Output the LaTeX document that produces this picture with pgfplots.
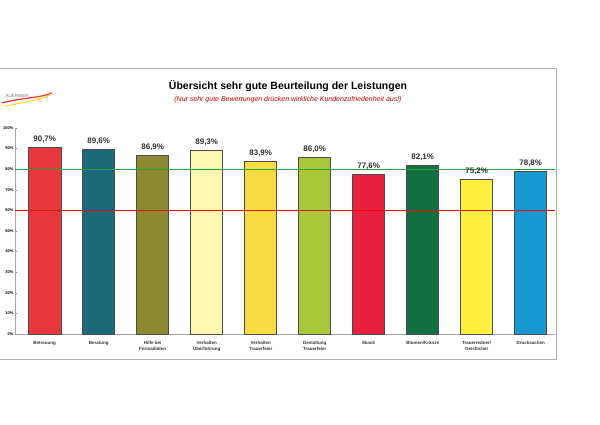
\documentclass[border=0pt]{standalone}
\usepackage{pgfplots}
\pgfplotsset{compat=1.18}
\usepackage{fontspec}
\setmainfont{Liberation Sans}
\definecolor{c1}{HTML}{E8383D}\definecolor{c2}{HTML}{1A6A7A}\definecolor{c3}{HTML}{8C8A30}
\definecolor{c4}{HTML}{FFF8B0}\definecolor{c5}{HTML}{F8DC40}\definecolor{c6}{HTML}{A8C83A}
\definecolor{c7}{HTML}{E82040}\definecolor{c8}{HTML}{107040}\definecolor{c9}{HTML}{FFF040}
\definecolor{c10}{HTML}{1898D0}\definecolor{refgreen}{RGB}{40,160,60}
\begin{document}
\begin{tikzpicture}[x=1pt,y=1pt]
\useasboundingbox (0,0) rectangle (600,425);
\clip (0,0) rectangle (600,425);
\fill[white] (0,0) rectangle (600,425);
\draw[gray!60] (0,357) -- (556,357) -- (556,66) -- (0,66);
\node[font=\bfseries\fontsize{10.5}{12}\selectfont] at (288,339) {Übersicht sehr gute Beurteilung der Leistungen};
\node[font=\itshape\fontsize{7}{8}\selectfont, text=red!80!black] at (288,325) {(Nur sehr gute Bewertungen drücken wirkliche Kundenzufriedenheit aus!)};
\node[font=\fontsize{4.5}{5}\selectfont, text=gray, anchor=west] at (2,329) {AUERBIER};
\draw[red!80, line width=1.2pt] (2,322) .. controls (20,327) and (40,327) .. (52,332);
\draw[yellow!80!orange, line width=1pt] (6,319) .. controls (25,323) and (40,325) .. (50,330);
\begin{axis}[at={(15pt,91pt)}, anchor=south west, scale only axis, width=540pt, height=206pt,
 ymin=0, ymax=100, xmin=-0.55, xmax=9.45, axis x line*=bottom, axis y line*=left,
 /pgf/number format/assume math mode=true,
 ytick={0,10,...,100}, yticklabels={0\%,10\%,20\%,30\%,40\%,50\%,60\%,70\%,80\%,90\%,100\%},
 yticklabel style={font=\fontsize{4}{5}\selectfont\bfseries, xshift=2pt}, tick style={gray}, axis line style={gray!70},
 major tick length=2pt, xtick={0,...,9},
 xticklabels={Betreuung,Beratung,Hilfe bei\\Formalitäten,Verhalten\\Überführung,Verhalten\\Trauerfeier,Gestaltung\\Trauerfeier,Musik,Blumen/Kränze,Trauerredner/\\Geistlicher,Drucksachen},
 xticklabel style={font=\fontsize{4.5}{5.5}\selectfont\bfseries, align=center, anchor=north, yshift=-2pt, text=black!80},
 x tick style={draw=none},
 ybar, bar width=32pt, bar shift=0pt,
 nodes near coords={\pgfmathprintnumber[fixed,precision=1,use comma,fixed zerofill]{\pgfplotspointmeta}\%},
 every node near coord/.append style={font=\bfseries\fontsize{8}{9}\selectfont, text=black!80, yshift=1pt},
 clip=false]
\addplot[fill=c1,draw=black!70] coordinates {(0,90.7)};
\addplot[fill=c2,draw=black!70] coordinates {(1,89.6)};
\addplot[fill=c3,draw=black!70] coordinates {(2,86.9)};
\addplot[fill=c4,draw=black!70] coordinates {(3,89.3)};
\addplot[fill=c5,draw=black!70] coordinates {(4,83.9)};
\addplot[fill=c6,draw=black!70] coordinates {(5,86.0)};
\addplot[fill=c7,draw=black!70] coordinates {(6,77.6)};
\addplot[fill=c8,draw=black!70] coordinates {(7,82.1)};
\addplot[fill=c9,draw=black!70] coordinates {(8,75.2)};
\addplot[fill=c10,draw=black!70] coordinates {(9,78.8)};
\draw[draw=refgreen, line width=1.1pt] (axis cs:-0.55,80) -- (axis cs:9.45,80);
\draw[draw=red, line width=0.8pt] (axis cs:-0.55,60) -- (axis cs:9.45,60);
\end{axis}
\end{tikzpicture}
\end{document}
